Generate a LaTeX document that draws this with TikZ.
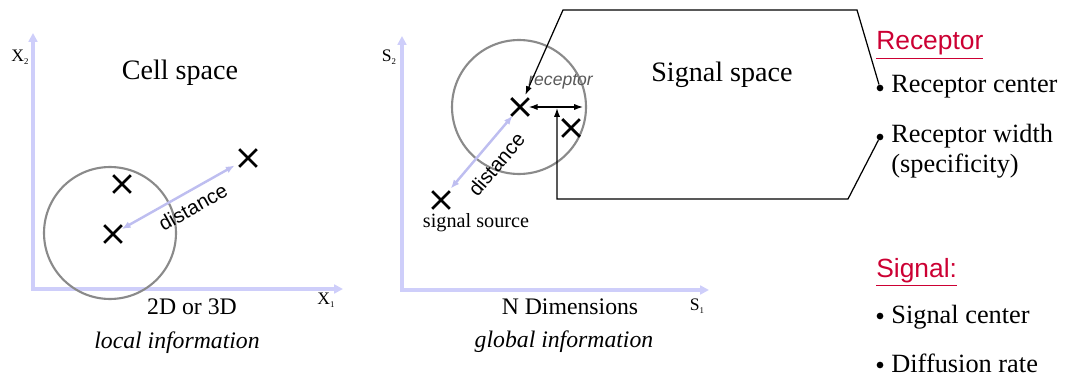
\documentclass[tikz,border=0pt]{standalone}
\usepackage{fontspec}
\setmainfont{Liberation Serif}
\setsansfont{Liberation Sans}
\usetikzlibrary{shapes.misc,arrows.meta}

\definecolor{axisblue}{RGB}{206,206,250}
\definecolor{distblue}{RGB}{190,190,240}
\definecolor{titlered}{RGB}{204,0,51}
\definecolor{cellgray}{RGB}{138,138,138}
\newcommand{\axsub}[1]{\raisebox{-1.5pt}{\fontsize{5}{5}\selectfont #1}}

\begin{document}
\begin{tikzpicture}[x=0.02cm, y=-0.02cm,
    axis/.style={axisblue, line width=2pt, {Triangle[length=5pt,width=5pt]}-{Triangle[length=5pt,width=5pt]}},
    cellcircle/.style={cellgray, line width=1.2pt},
    xmark/.style={cross out, draw=black, line width=1.6pt, minimum size=8pt, inner sep=0pt, outer sep=1pt},
    distarrow/.style={distblue, line width=1.4pt, {Latex[length=5pt,width=4pt]}-{Latex[length=5pt,width=4pt]}},
    pointer/.style={line width=0.7pt, -{Latex[length=5pt,width=3.5pt]}},
    distlabel/.style={font=\sffamily\fontsize{11.5}{13}\selectfont, inner sep=2pt},
    bigtext/.style={font=\fontsize{16}{19}\selectfont, anchor=base},
    midtext/.style={font=\fontsize{13.5}{16}\selectfont, anchor=base},
    axislabel/.style={font=\fontsize{10}{12}\selectfont},
    itemtext/.style={font=\fontsize{15}{18}\selectfont, anchor=base west, inner sep=0pt},
    header/.style={font=\sffamily\fontsize{15}{18}\selectfont, text=titlered, anchor=base west, inner sep=0pt},
    dot/.style={circle, fill=black, inner sep=0pt, minimum size=3.8pt}]
  \useasboundingbox (0,0) rectangle (1074,381);

  % Cell space (left)
  \coordinate (corig) at (33,289);
  \coordinate (ctop) at (33,33);
  \coordinate (cright) at (343,289);
  \draw[axis] (ctop) -- (corig) -- (cright);
  \node[axislabel] (cxtwo) at (20,57) {X\axsub{2}};
  \node[axislabel] (cxone) at (326,300) {X\axsub{1}};
  \node[bigtext] (celltitle) at (180,80) {Cell space};
  \draw[cellcircle] (110,233) circle (1.32cm);
  \foreach \name/\x/\y in {ca/113/234, cb/122/184, cc/248/158} {
    \node[xmark] (\name) at (\x,\y) {};
  }
  \draw[distarrow, shorten >=3pt] (ca) -- (cc)
    node[pos=0.54, sloped, below=2pt, distlabel, text=black] (cdist) {distance};
  \node[midtext] (celldim) at (192,315) {2D or 3D};
  \node[midtext] (cellinfo) at (177,348) {\itshape local information};

  % Signal space (middle)
  \coordinate (sorig) at (402,290);
  \coordinate (stop) at (402,36);
  \coordinate (sright) at (709,290);
  \draw[axis] (stop) -- (sorig) -- (sright);
  \node[axislabel] (ssone) at (389,57) {S\axsub{2}};
  \node[axislabel] (sstwo) at (697,306) {S\axsub{1}};
  \node[bigtext] (signaltitle) at (722,82) {Signal space};
  \draw[cellcircle] (519,107) circle (1.34cm);
  \foreach \name/\x/\y in {rx/520/107, rb/571/128, sx/441/200} {
    \node[xmark] (\name) at (\x,\y) {};
  }
  \draw[distarrow, shorten <=2pt] (sx) -- (rx)
    node[pos=0.52, sloped, below=4pt, distlabel, text=black] (sdist) {distance};
  \node[font=\fontsize{11.5}{14}\selectfont, anchor=base] (source) at (476,228) {signal source};
  \node[font=\sffamily\itshape\fontsize{10}{12}\selectfont, text=black!65, anchor=base west, inner sep=0pt] (receptor) at (528,86) {receptor};
  \coordinate (wend) at (583,107);
  \coordinate (wmid) at (557,108);
  \draw[line width=0.7pt, {Latex[length=5pt,width=3.5pt]}-{Latex[length=5pt,width=3.5pt]}] (rx) -- (wend);
  \node[midtext] (sigdim) at (570,315) {N Dimensions};
  \node[midtext] (siginfo) at (564,347) {\itshape global information};

  % Receptor and signal (right)
  \node[header] (rhead) at (876,50) {\underline{Receptor}};
  \node[dot] (bcenter) at (880,88) {};
  \node[itemtext] (rcenter) at (891,93) {Receptor center};
  \node[dot] (bwidth) at (880,137) {};
  \node[itemtext] (rwidth) at (891,143) {Receptor width};
  \node[itemtext] (rspec) at (891,173) {(specificity)};
  \node[header] (shead) at (876,277) {\underline{Signal:}};
  \node[dot] (bsig) at (880,316) {};
  \node[itemtext] (scenter) at (891,323) {Signal center};
  \node[dot] (bdiff) at (880,365) {};
  \node[itemtext] (sdiff) at (891,372) {Diffusion rate};

  % Pointers
  \coordinate (ptop) at (563,10);
  \coordinate (ptopr) at (857,10);
  \coordinate (pbot) at (557,199);
  \coordinate (pbotr) at (848,199);
  \draw[pointer, shorten >=2pt] (bcenter) -- (ptopr) -- (ptop) -- (rx);
  \draw[pointer] (bwidth) -- (pbotr) -- (pbot) -- (wmid);
\end{tikzpicture}
\end{document}
